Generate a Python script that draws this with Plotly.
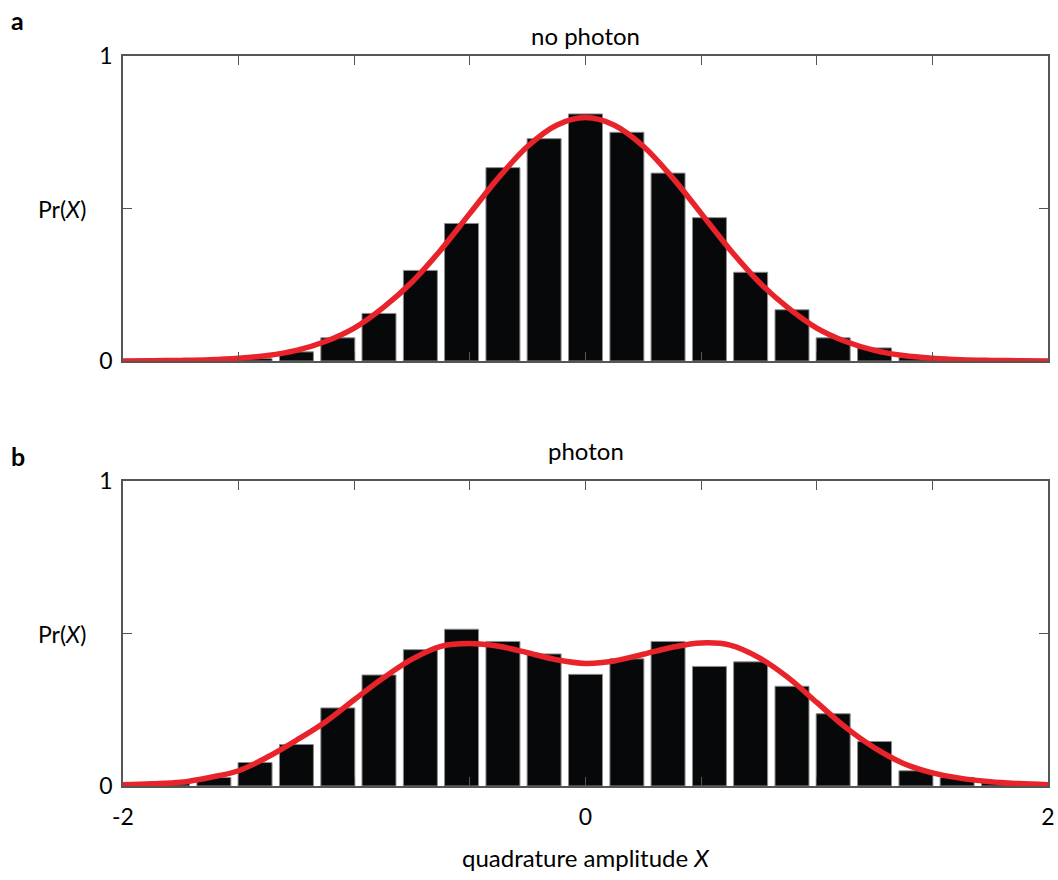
import plotly.graph_objects as go

# ---- data ----
bin_centers = [-1.786, -1.607, -1.429, -1.250, -1.071, -0.893, -0.714, -0.536, -0.357, -0.179,
               0.0, 0.179, 0.357, 0.536, 0.714, 0.893, 1.071, 1.250, 1.429, 1.607, 1.786]
no_photon_hist = [0.0, 0.0, 0.008, 0.030, 0.076, 0.156, 0.297, 0.451, 0.634, 0.729,
                  0.810, 0.750, 0.616, 0.470, 0.291, 0.168, 0.076, 0.043, 0.012, 0.0, 0.0]
photon_hist = [0.008, 0.028, 0.077, 0.136, 0.256, 0.364, 0.447, 0.514, 0.474, 0.433,
               0.366, 0.417, 0.474, 0.392, 0.407, 0.327, 0.237, 0.146, 0.050, 0.028, 0.010]

curve_x = [-2.0, -1.875, -1.75, -1.625, -1.5, -1.375, -1.25, -1.125, -1.0, -0.875, -0.75,
           -0.625, -0.5, -0.375, -0.25, -0.125, 0.0, 0.125, 0.25, 0.375, 0.5, 0.625, 0.75,
           0.875, 1.0, 1.125, 1.25, 1.375, 1.5, 1.625, 1.75, 1.875, 2.0]
no_photon_fit = [0.0003, 0.001, 0.002, 0.004, 0.009, 0.018, 0.035, 0.064, 0.108, 0.175, 0.259,
                 0.365, 0.484, 0.602, 0.704, 0.773, 0.798, 0.773, 0.704, 0.602, 0.484, 0.365,
                 0.259, 0.175, 0.108, 0.064, 0.035, 0.018, 0.009, 0.004, 0.002, 0.001, 0.0003]
photon_fit = [0.004, 0.007, 0.012, 0.028, 0.050, 0.095, 0.150, 0.210, 0.283, 0.354, 0.416,
              0.458, 0.467, 0.458, 0.437, 0.414, 0.402, 0.410, 0.432, 0.455, 0.469, 0.462,
              0.421, 0.356, 0.274, 0.192, 0.125, 0.074, 0.043, 0.025, 0.014, 0.008, 0.004]

x_tickvals = [-2, -1.5, -1, -0.5, 0, 0.5, 1, 1.5, 2]
x_ticktext = ["-2", "", "", "", "0", "", "", "", "2"]
y_tickvals = [0, 0.5, 1]
y_ticktext = ["0", "", "1"]

panel_titles = ["no photon", "photon"]
panel_letters = ["a", "b"]

FONT = "Lato"
BAR_COLOR = "#07080a"
LINE_COLOR = "#e8232a"
AXIS_COLOR = "#555555"

W, H = 1058, 880
x0, x1 = 123, 1048
top_y = (56, 361)
bot_y = (481, 786)
title_py = [35, 450]
letter_py = [20, 456]


def ydom(py):
    return [1 - py[1] / H, 1 - py[0] / H]


fig = go.Figure()

for i, (hist, fit) in enumerate([(no_photon_hist, no_photon_fit), (photon_hist, photon_fit)]):
    xa = "x" if i == 0 else "x2"
    ya = "y" if i == 0 else "y2"
    fig.add_trace(go.Bar(x=bin_centers, y=hist, width=0.147, xaxis=xa, yaxis=ya,
                         marker=dict(color=BAR_COLOR, line=dict(color="#8c8c8c", width=1)),
                         hoverinfo="skip"))
    fig.add_trace(go.Scatter(x=curve_x, y=fit, mode="lines", xaxis=xa, yaxis=ya,
                             line=dict(color=LINE_COLOR, width=5.5, shape="spline"),
                             hoverinfo="skip"))

common_x = dict(range=[-2, 2], tickvals=x_tickvals, ticks="inside", ticklen=9,
                tickcolor=AXIS_COLOR, tickwidth=1.2, showline=True, linecolor=AXIS_COLOR,
                linewidth=1.5, mirror="ticks", showgrid=False, zeroline=False,
                automargin=False,
                domain=[x0 / W, x1 / W], tickfont=dict(family=FONT, size=23, color="black"))
common_y = dict(range=[0, 1], tickvals=y_tickvals, ticktext=y_ticktext, ticks="inside",
                ticklen=9, tickcolor=AXIS_COLOR, tickwidth=1.2, showline=True,
                linecolor=AXIS_COLOR, linewidth=1.5, mirror="ticks", showgrid=False,
                zeroline=False, automargin=False,
                tickfont=dict(family=FONT, size=23, color="black"),
                ticklabelstandoff=4)

fig.update_layout(
    width=W, height=H, margin=dict(l=0, r=0, t=0, b=0, pad=0, autoexpand=False),
    plot_bgcolor="white", paper_bgcolor="white", showlegend=False, barmode="overlay",
    xaxis=dict(**common_x, anchor="y", showticklabels=False),
    yaxis=dict(**common_y, anchor="x", domain=ydom(top_y)),
    xaxis2=dict(**common_x, anchor="y2", ticktext=x_ticktext, ticklabelstandoff=10),
    yaxis2=dict(**common_y, anchor="x2", domain=ydom(bot_y)),
)

ann = []
cx = (x0 + x1) / 2 / W
for i, (title, letter, py) in enumerate(zip(panel_titles, panel_letters, [top_y, bot_y])):
    ann.append(dict(text=title, x=cx, y=1 - title_py[i] / H, xref="paper", yref="paper",
                    xanchor="center", yanchor="middle", showarrow=False,
                    font=dict(family=FONT, size=24, color="black")))
    ann.append(dict(text="<b>" + letter + "</b>", x=9 / W, y=1 - letter_py[i] / H,
                    xref="paper", yref="paper", xanchor="left", yanchor="middle",
                    showarrow=False, font=dict(family=FONT, size=25, color="black")))
    ann.append(dict(text="Pr(<i>X</i>)", x=88 / W, y=1 - ((py[0] + py[1]) / 2) / H,
                    xref="paper", yref="paper", xanchor="right", yanchor="middle",
                    showarrow=False, font=dict(family=FONT, size=23, color="black")))
ann.append(dict(text="quadrature amplitude <i>X</i>", x=cx, y=1 - 857 / H, xref="paper",
                yref="paper", xanchor="center", yanchor="middle", showarrow=False,
                font=dict(family=FONT, size=24, color="black")))
fig.update_layout(annotations=ann)

fig.write_html("out.html", config={"displayModeBar": False},
               post_script="document.body.style.margin='0px';document.body.style.overflow='hidden';")
